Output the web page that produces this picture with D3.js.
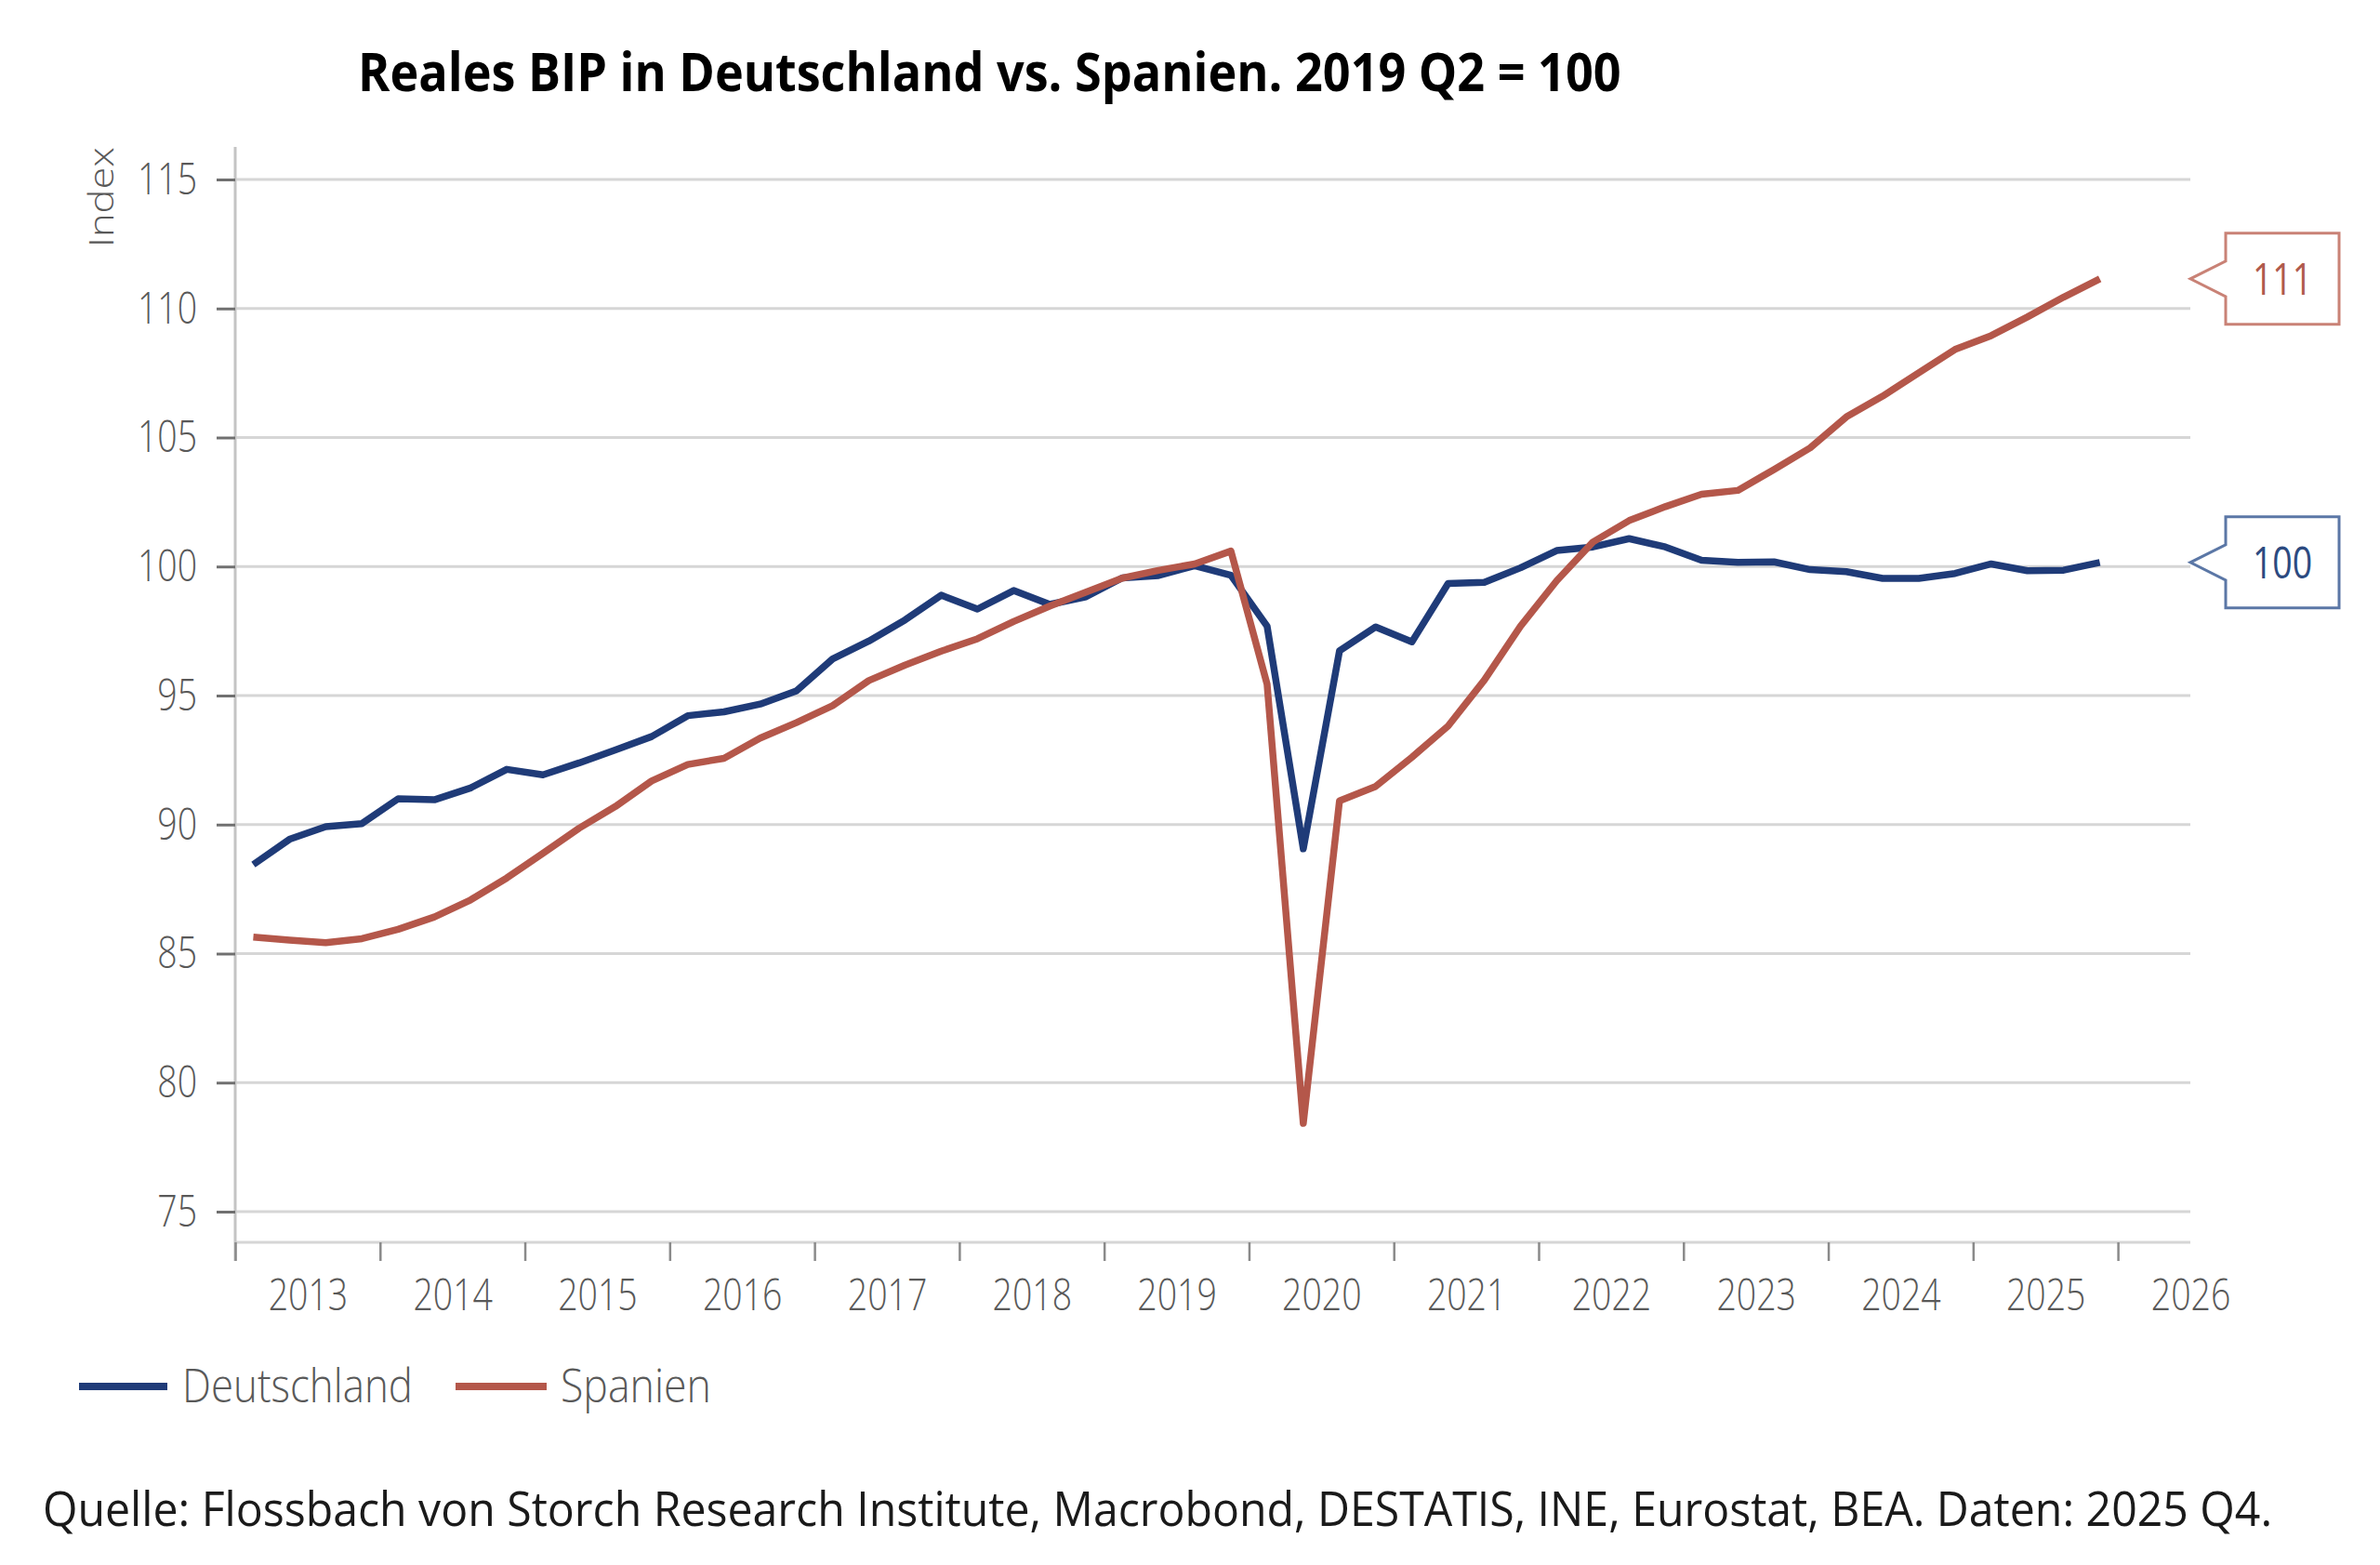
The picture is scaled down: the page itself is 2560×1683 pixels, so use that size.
<!DOCTYPE html>
<html>
<head>
<meta charset="utf-8">
<script src="https://cdn.jsdelivr.net/npm/d3@7"></script>
<style>
  body { margin: 0; background: #fff; }
  svg text { font-family: 'Open Sans', 'Noto Sans', sans-serif; }
</style>
</head>
<body>
<div id="grafik"></div>
<script>
// I. Daten (Index, 2019 Q2 = 100)
const quartale = [
  '2013Q1','2013Q2','2013Q3','2013Q4','2014Q1','2014Q2','2014Q3','2014Q4',
  '2015Q1','2015Q2','2015Q3','2015Q4','2016Q1','2016Q2','2016Q3','2016Q4',
  '2017Q1','2017Q2','2017Q3','2017Q4','2018Q1','2018Q2','2018Q3','2018Q4',
  '2019Q1','2019Q2','2019Q3','2019Q4','2020Q1','2020Q2','2020Q3','2020Q4',
  '2021Q1','2021Q2','2021Q3','2021Q4','2022Q1','2022Q2','2022Q3','2022Q4',
  '2023Q1','2023Q2','2023Q3','2023Q4','2024Q1','2024Q2','2024Q3','2024Q4',
  '2025Q1','2025Q2','2025Q3','2025Q4'
]

const deutschland = [
  88.45, 89.43, 89.92, 90.04, 91.00, 90.96, 91.42, 92.14,
  91.93, 92.39, 92.89, 93.41, 94.22, 94.37, 94.67, 95.18,
  96.42, 97.11, 97.93, 98.89, 98.35, 99.07, 98.53, 98.83,
  99.56, 99.65, 100.03, 99.66, 97.69, 89.06, 96.73, 97.66,
  97.08, 99.34, 99.39, 99.95, 100.62, 100.76, 101.08, 100.76,
  100.24, 100.16, 100.18, 99.88, 99.80, 99.54, 99.54, 99.73,
  100.10, 99.84, 99.86, 100.16
]

const spanien = [
  85.64, 85.52, 85.42, 85.58, 85.94, 86.42, 87.08, 87.93,
  88.89, 89.86, 90.70, 91.69, 92.33, 92.57, 93.35, 93.95,
  94.61, 95.58, 96.18, 96.72, 97.20, 97.87, 98.47, 99.01,
  99.55, 99.85, 100.10, 100.60, 95.44, 78.42, 90.92, 91.48,
  92.61, 93.82, 95.60, 97.69, 99.45, 100.95, 101.78, 102.32,
  102.80, 102.95, 103.76, 104.60, 105.80, 106.60, 107.51, 108.41,
  108.95, 109.67, 110.44, 111.15
]

const jahre = [2013, 2014, 2015, 2016, 2017, 2018, 2019, 2020, 2021, 2022, 2023, 2024, 2025, 2026]
const yTicks = [75, 80, 85, 90, 95, 100, 105, 110, 115]

const serien = [
  { name: 'Deutschland', werte: deutschland, farbe: '#1f3b78', rahmen: '#5b77a6', text: '#2c4a80' },
  { name: 'Spanien', werte: spanien, farbe: '#b4574a', rahmen: '#c98276', text: '#b05a4c' }
]

// II. Konfiguration
const breite = 2560, hoehe = 1683
const links = 253, rechts = 2356
const oben = 193, unten = 1303
const xAchseY = 1336

const svg = d3.select('#grafik').append('svg')
  .attr('width', breite)
  .attr('height', hoehe)
  .style('background', '#fff')

// Quartal in der Mitte des Quartals platzieren
function zeit(q) {
  return +q.slice(0, 4) + (+q.slice(5) - 0.5) / 4
}

const x = d3.scaleLinear()
  .domain([2013, 2026.5])
  .range([links, rechts])

const y = d3.scaleLinear()
  .domain([75, 115])
  .range([unten, oben])

// Text horizontal stauchen (Vorlage ist schmal gesetzt)
function schmal(sel, faktor) {
  sel.each(function() {
    const w = this.getComputedTextLength()
    d3.select(this)
      .attr('textLength', w * faktor)
      .attr('lengthAdjust', 'spacingAndGlyphs')
  })
}

// Text per Transformation auf eine Zielbreite bringen
function aufBreite(x0, y0, zielBreite, baue) {
  const g = svg.append('g')
  const t = baue(g.append('text'))
  const w = t.node().getComputedTextLength()
  g.attr('transform', `translate(${x0}, ${y0}) scale(${zielBreite / w}, 1)`)
  return t
}

// III. Titel
aufBreite(385, 98, 1359, t => t
  .attr('font-size', 57)
  .attr('font-weight', 700)
  .attr('fill', '#000')
  .text('Reales BIP in Deutschland vs. Spanien. 2019 Q2 = 100'))

// IV. Gitter und Achsen
svg.append('g')
  .selectAll('line')
  .data(yTicks)
  .enter()
  .append('line')
    .attr('x1', links)
    .attr('x2', rechts)
    .attr('y1', d => y(d))
    .attr('y2', d => y(d))
    .attr('stroke', '#d6d6d6')
    .attr('stroke-width', 3)

// x-Achsenlinie
svg.append('line')
  .attr('x1', links)
  .attr('x2', rechts)
  .attr('y1', xAchseY)
  .attr('y2', xAchseY)
  .attr('stroke', '#d6d6d6')
  .attr('stroke-width', 3)

// y-Achsenlinie
svg.append('line')
  .attr('x1', links)
  .attr('x2', links)
  .attr('y1', 158)
  .attr('y2', 1356)
  .attr('stroke', '#c4c4c4')
  .attr('stroke-width', 3)

const yAxisGroup = svg.append('g')
  .attr('transform', `translate(${links}, 0)`)
yAxisGroup.call(d3.axisLeft(y).tickValues(yTicks).tickSize(20).tickPadding(21))
yAxisGroup.select('.domain').remove()
yAxisGroup.selectAll('.tick line')
  .attr('stroke', '#707070')
  .attr('stroke-width', 3)
yAxisGroup.selectAll('text')
  .attr('font-size', 48)
  .attr('font-weight', 300)
  .attr('fill', '#595959')
  .attr('font-family', "'Open Sans', sans-serif")
  .call(schmal, 0.78)

const xTickGroup = svg.append('g')
  .attr('transform', `translate(0, ${xAchseY})`)
xTickGroup.call(d3.axisBottom(x).tickValues(jahre).tickSize(20).tickFormat(''))
xTickGroup.select('.domain').remove()
xTickGroup.selectAll('.tick line')
  .attr('stroke', '#8a8a8a')
  .attr('stroke-width', 2.5)

const xLabelGroup = svg.append('g')
  .attr('transform', `translate(0, ${xAchseY})`)
xLabelGroup.call(d3.axisBottom(x).tickValues(jahre.map(j => j + 0.5)).tickSize(0).tickFormat(d => Math.floor(d)))
xLabelGroup.select('.domain').remove()
xLabelGroup.selectAll('text')
  .attr('y', 73)
  .attr('dy', 0)
  .attr('font-size', 48)
  .attr('font-weight', 300)
  .attr('fill', '#595959')
  .attr('font-family', "'Open Sans', sans-serif")
  .call(schmal, 0.78)

// Achsentitel
svg.append('text')
  .attr('transform', 'translate(122, 158) scale(0.8, 1) rotate(-90)')
  .attr('text-anchor', 'end')
  .attr('font-size', 46)
  .attr('font-weight', 300)
  .attr('fill', '#595959')
  .attr('textLength', 108)
  .attr('lengthAdjust', 'spacingAndGlyphs')
  .text('Index')

// V. Linien
const linie = d3.line()
  .x((d, i) => x(zeit(quartale[i])))
  .y(d => y(d))

svg.append('g')
  .selectAll('path')
  .data(serien)
  .enter()
  .append('path')
    .attr('d', d => linie(d.werte))
    .attr('fill', 'none')
    .attr('stroke', d => d.farbe)
    .attr('stroke-width', 7.5)
    .attr('stroke-linejoin', 'round')

// VI. Wertfahnen am rechten Rand
const boxLinks = 2394, boxRechts = 2516, boxHoehe = 98
serien.forEach(s => {
  const letzter = s.werte[s.werte.length - 1]
  const ty = y(letzter)
  const y0 = ty - boxHoehe / 2, y1 = ty + boxHoehe / 2
  const pfad = d3.path()
  pfad.moveTo(boxLinks, y0)
  pfad.lineTo(boxRechts, y0)
  pfad.lineTo(boxRechts, y1)
  pfad.lineTo(boxLinks, y1)
  pfad.lineTo(boxLinks, ty + 19)
  pfad.lineTo(rechts, ty)
  pfad.lineTo(boxLinks, ty - 19)
  pfad.closePath()

  svg.append('path')
    .attr('d', pfad.toString())
    .attr('fill', '#fff')
    .attr('stroke', s.rahmen)
    .attr('stroke-width', 3)

  svg.append('text')
    .attr('x', (boxLinks + boxRechts) / 2)
    .attr('y', ty + 17)
    .attr('text-anchor', 'middle')
    .attr('font-size', 48)
    .attr('fill', s.text)
    .text(Math.round(letzter))
    .call(schmal, 0.78)
})

// VII. Legende
const legende = [
  { x1: 85, x2: 180, tx: 196, breiteText: 248 },
  { x1: 490, x2: 588, tx: 603, breiteText: 162 }
]
serien.forEach((s, i) => {
  const l = legende[i]
  svg.append('line')
    .attr('x1', l.x1)
    .attr('x2', l.x2)
    .attr('y1', 1491)
    .attr('y2', 1491)
    .attr('stroke', s.farbe)
    .attr('stroke-width', 8)
  aufBreite(l.tx, 1508, l.breiteText, t => t
    .attr('font-size', 50)
    .attr('font-weight', 300)
    .attr('fill', '#595959')
    .text(s.name))
})

// VIII. Quelle
aufBreite(46, 1641, 2399, t => t
  .attr('font-size', 52)
  .attr('fill', '#1a1a1a')
  .text('Quelle: Flossbach von Storch Research Institute, Macrobond, DESTATIS, INE, Eurostat, BEA. Daten: 2025 Q4.'))
</script>
</body>
</html>
